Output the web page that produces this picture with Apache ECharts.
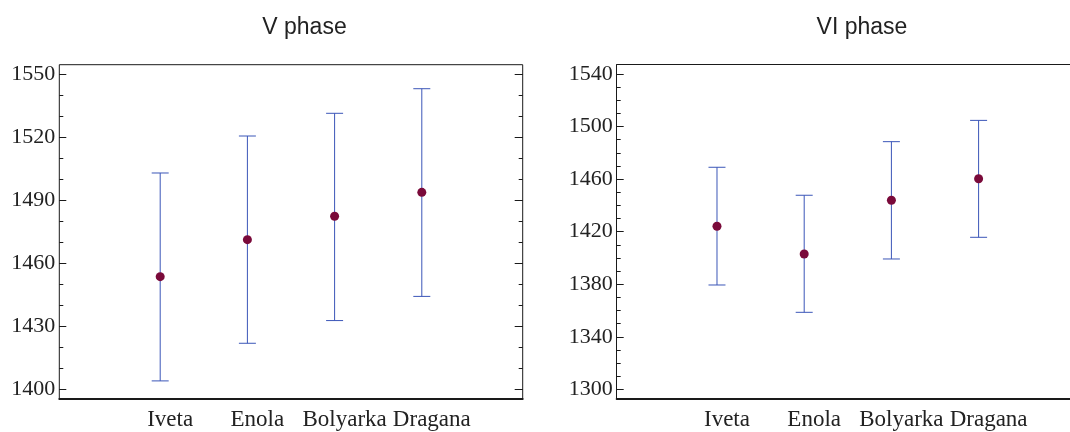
<!DOCTYPE html>
<html>
<head>
<meta charset="utf-8">
<script src="https://cdn.jsdelivr.net/npm/echarts@6/dist/echarts.min.js"></script>
<style>
html,body{margin:0;padding:0;background:#fff;}
#chart{width:1070px;height:432px;}
</style>
</head>
<body>
<div id="chart"></div>
<script>
// ---- data ----
const categories = ['Iveta', 'Enola', 'Bolyarka', 'Dragana'];
const titles = ['V phase', 'VI phase'];

const vMeans = [1453.6, 1471.2, 1482.3, 1493.7];
const vLows  = [1404.0, 1421.9, 1432.7, 1444.2];
const vHighs = [1502.9, 1520.5, 1531.3, 1543.0];

const viMeans = [1424.1, 1403.0, 1443.9, 1460.3];
const viLows  = [1379.4, 1358.6, 1399.2, 1415.7];
const viHighs = [1469.0, 1447.7, 1488.5, 1504.7];

const vTicks  = [1400, 1430, 1460, 1490, 1520, 1550];
const viTicks = [1300, 1340, 1380, 1420, 1460, 1500, 1540];
const vMinorTicks  = [1400,1410,1420,1430,1440,1450,1460,1470,1480,1490,1500,1510,1520,1530,1540,1550];
const viMinorTicks = [1300,1310,1320,1330,1340,1350,1360,1370,1380,1390,1400,1410,1420,1430,1440,1450,1460,1470,1480,1490,1500,1510,1520,1530,1540];
const catIdx = [0, 1, 2, 3];

// ---- chart ----
const chart = echarts.init(document.getElementById('chart'), null, {renderer: 'canvas'});

const axisColor = '#1a1a1a';
const labelFont = {fontFamily: '"Liberation Serif", "Times New Roman", serif', color: '#222'};
const barColor = '#3b56b8';
const dotColor = '#7a0a3a';

function yAxes(gridIndex, min, max, major, minor, withRight, showLine) {
  const base = {
    type: 'value', gridIndex, min, max,
    splitLine: {show: false},
    axisLine: {show: false, onZero: false}
  };
  const list = [
    Object.assign({}, base, {
      position: 'left',
      axisLine: {show: showLine, onZero: false, lineStyle: {color: axisColor, width: 1}},
      axisTick: {show: true, inside: true, length: 7, customValues: major, lineStyle: {color: axisColor, width: 1}},
      axisLabel: Object.assign({show: true, customValues: major, fontSize: 22, margin: 4,
        padding: [4, 0, 0, 0], formatter: v => String(Math.round(v))}, labelFont)
    }),
    Object.assign({}, base, {
      position: 'left',
      axisTick: {show: true, inside: true, length: 4, customValues: minor, lineStyle: {color: axisColor, width: 1}},
      axisLabel: {show: false}
    })
  ];
  if (withRight) {
    list.push(Object.assign({}, base, {
      position: 'right',
      axisTick: {show: true, inside: true, length: 8, customValues: major, lineStyle: {color: axisColor, width: 1}},
      axisLabel: {show: false}
    }));
    list.push(Object.assign({}, base, {
      position: 'right',
      axisTick: {show: true, inside: true, length: 4, customValues: minor, lineStyle: {color: axisColor, width: 1}},
      axisLabel: {show: false}
    }));
  }
  return list;
}

function xAxis(gridIndex, min, max) {
  return {
    type: 'value', gridIndex, min, max, position: 'bottom',
    splitLine: {show: false},
    axisLine: {show: true, onZero: false, lineStyle: {color: axisColor, width: 2}},
    axisTick: {show: false},
    axisLabel: Object.assign({
      show: true, customValues: catIdx, fontSize: 23, margin: 10,
      padding: [0, 0, 0, 20],
      formatter: v => categories[Math.round(v)] || ''
    }, labelFont)
  };
}

function topAxis(gridIndex, min, max) {
  return {
    type: 'value', gridIndex, min, max, position: 'top',
    splitLine: {show: false},
    axisLine: {show: true, onZero: false, lineStyle: {color: axisColor, width: 1}},
    axisTick: {show: false},
    axisLabel: {show: false}
  };
}

function errorSeries(xi, yi, lows, highs) {
  return {
    type: 'custom',
    xAxisIndex: xi, yAxisIndex: yi,
    data: catIdx.map(i => [i, lows[i], highs[i]]),
    encode: {x: 0, y: [1, 2]},
    silent: true,
    z: 2,
    renderItem: function (params, api) {
      const x = api.value(0);
      const lo = api.coord([x, api.value(1)]);
      const hi = api.coord([x, api.value(2)]);
      const half = 8.5;
      const style = {stroke: barColor, lineWidth: 1};
      return {
        type: 'group',
        children: [
          {type: 'line', shape: {x1: lo[0], y1: lo[1], x2: hi[0], y2: hi[1]}, style},
          {type: 'line', shape: {x1: lo[0] - half, y1: lo[1], x2: lo[0] + half, y2: lo[1]}, style},
          {type: 'line', shape: {x1: hi[0] - half, y1: hi[1], x2: hi[0] + half, y2: hi[1]}, style}
        ]
      };
    }
  };
}

function dotSeries(xi, yi, means) {
  return {
    type: 'scatter',
    xAxisIndex: xi, yAxisIndex: yi,
    data: catIdx.map(i => [i, means[i]]),
    symbol: 'circle', symbolSize: 9,
    itemStyle: {color: dotColor, opacity: 1},
    silent: true,
    z: 3
  };
}

const titleStyle = {fontFamily: '"Liberation Sans", Arial, sans-serif', fontSize: 23, fontWeight: 'normal', color: '#222'};

const option = {
  animation: false,
  backgroundColor: '#fff',
  title: [
    {text: titles[0], left: 299.5, top: 11, textAlign: 'center', textStyle: titleStyle},
    {text: titles[1], left: 857, top: 11, textAlign: 'center', textStyle: titleStyle}
  ],
  grid: [
    {left: 59.3, top: 64.7, width: 463.4, height: 334, show: true, borderColor: axisColor, borderWidth: 1, backgroundColor: 'transparent'},
    {left: 616.7, top: 64.7, right: 0, height: 334, show: false}
  ],
  xAxis: [
    xAxis(0, -1.157, 4.157),
    xAxis(1, -1.150, 4.048),
    topAxis(1, -1.150, 4.048)
  ],
  yAxis: [
    ...yAxes(0, 1395.53, 1554.42, vTicks, vMinorTicks, true, false),
    ...yAxes(1, 1292.85, 1547.08, viTicks, viMinorTicks, false, true)
  ],
  series: [
    errorSeries(0, 0, vLows, vHighs),
    dotSeries(0, 0, vMeans),
    errorSeries(1, 4, viLows, viHighs),
    dotSeries(1, 4, viMeans)
  ]
};

chart.setOption(option);
</script>
</body>
</html>
